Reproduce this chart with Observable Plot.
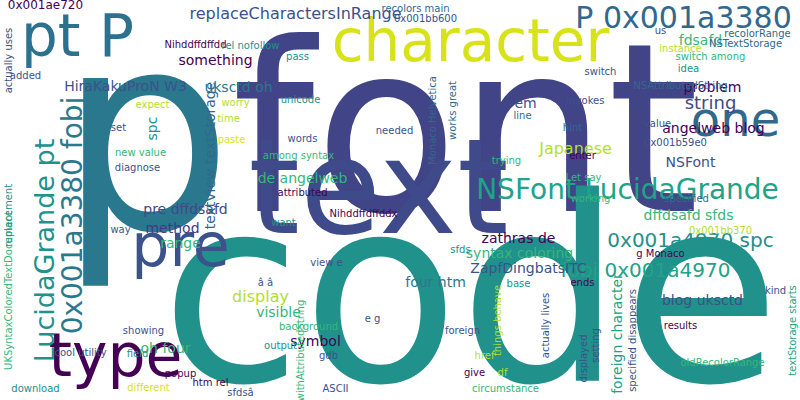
<!DOCTYPE html>
<html><head><meta charset="utf-8">
<script src="https://cdn.jsdelivr.net/npm/d3@7"></script>
<script src="https://cdn.jsdelivr.net/npm/@observablehq/plot@0.6"></script>
<style>body{margin:0;background:#fff}</style>
</head><body><div id="chart"></div>
<script>
const words = ["p","font","code","text","character","pt P","pre","type","one","P 0x001a3380","NSFont LucidaGrande","LucidaGrande pt","0x001a3380 fobj","0x001a4970 spc","fobj 0x001a4970","replaceCharactersInRange","Japanese","HiraKakuProN W3","uksctd oh","something","string","problem","angelweb blog","fdsafd","em","NSFont","dffdsafd sfds","zathras de","syntax coloring","ZapfDingbatsITC","four htm","de angelweb","pre dffdsafd","method","range","display","visible","symbol","oh four","blog uksctd","foreign character","spc","textView textStorage","Nihddffdffddx","Nihddffdffdd","rel nofollow","recolors main","0x001ae720","0x001bb600","NSTextStorage","recolorRange","NSAttributedString","invokes","hint","enter","Let say","working","value","0x001b59e0","specified","unicode","words","worry","paste","time","expect","set","new value","diagnose","way","among syntax","attributed","want","pass","view e","needed","trying","Monaco Helvetica","works great","line","ends","base","sfds","ASCII","circumstance","gdb","output","background","popup","showing","field","cool utility","download","different","htm rel","sfdsâ","UKSyntaxColoredTextDocument","replacement","actually uses","added","results","kind","textStorage starts","oldRecolorRange","specified disappears","displayed","setting","actually lives","things behave","href","foreign","give","df","withAttributedString","â â","e g","switch","instance","idea","switch among","0x001bb370","g Monaco","us"];
const xs = [145,465,470,378,470,77,180,115,735,683,627,45,73,690,645,295,575,125,238,215,710,712,713,700,525,690,688,518,519,528,435,302,185,172,180,260,278,315,165,702,617,152,210,363,195,250,415,45,425,745,757,680,585,572,582,583,590,657,675,686,300,302,235,231,228,152,118,140,137,120,298,302,283,297,326,394,506,432,452,522,582,518,460,335,505,328,280,308,180,143,137,80,35,148,210,240,8,8,8,25,680,775,792,722,632,583,595,545,497,484,462,474,502,300,265,372,600,680,688,710,720,660,660];
const ys = [140,135,298,190,42,37,246,356,120,18,190,250,215,240,270,13,148,86,87,60,103,87,128,40,103,162,215,238,253,268,282,178,209,228,243,296,312,341,348,300,333,128,155,213,44,45,8,5,18,43,33,85,100,127,155,177,198,123,142,198,99,138,102,139,118,104,127,152,167,229,155,192,222,56,262,130,160,120,110,115,282,283,249,388,388,355,345,326,373,330,353,352,388,387,382,392,290,215,60,75,325,290,330,362,340,358,345,325,320,355,330,372,372,350,282,318,71,48,68,56,230,253,30];
const sizes = [275,235,257,132,58,58,60,60,48,30,28,27,28,20,20,16,16,14,14,14,18,14,14,14,14,14,14,14,14,14,14,14,14,14,14,16,14,14,14,14,14,14,14,10,10,10,10,12,10,10,10,10,10,10,10,10,10,10,10,10,10,10,10,10,10,10,10,10,10,10,10,10,10,10,10,10,10,10,10,10,10,10,10,10,10,10,10,10,10,10,10,10,10,10,10,10,10,10,10,10,10,10,10,10,10,10,10,10,10,10,10,10,10,10,10,10,10,10,10,10,10,10,10];
const rots = [0,0,0,0,0,0,0,0,0,0,0,-90,-90,0,0,0,0,0,0,0,0,0,0,0,0,0,0,0,0,0,0,0,0,0,0,0,0,0,0,0,-90,-90,-90,0,0,0,0,0,0,0,0,0,0,0,0,0,0,0,0,0,0,0,0,0,0,0,0,0,0,0,0,0,0,0,0,0,0,-90,-90,0,0,0,0,0,0,0,0,0,0,0,0,0,0,0,0,0,-90,-90,-90,0,0,0,-90,0,-90,-90,-90,-90,-90,0,0,0,0,-90,0,0,0,0,0,0,0,0,0];
const colors = ["#2a788e","#414487","#21918c","#3e4a89","#d8e219","#2c728e","#3b528b","#440154","#31688e","#31688e","#20a386","#21918c","#2a788e","#21918c","#20a386","#3b528b","#b5de2b","#3b528b","#2a788e","#440154","#3e4a89","#440154","#440154","#35b779","#3b528b","#3b528b","#35b779","#440154","#35b779","#3b528b","#2a788e","#35b779","#3e4a89","#443983","#35b779","#b5de2b","#35b779","#440154","#35b779","#3b528b","#20a386","#21918c","#31688e","#440154","#440154","#21918c","#31688e","#440154","#3b528b","#31688e","#31688e","#31688e","#3b528b","#31688e","#440154","#35b779","#35b779","#3b528b","#3b528b","#31688e","#21918c","#3b528b","#b5de2b","#d8e219","#b5de2b","#b5de2b","#3b528b","#35b779","#3b528b","#3b528b","#35b779","#440154","#21918c","#21918c","#3b528b","#3b528b","#35b779","#31688e","#31688e","#31688e","#440154","#21918c","#21918c","#3b528b","#35b779","#3b528b","#21918c","#35b779","#440154","#3b528b","#21918c","#3b528b","#21918c","#d8e219","#440154","#3b528b","#35b779","#21918c","#3b528b","#3b528b","#440154","#3b528b","#20a386","#35b779","#3b528b","#3b528b","#3b528b","#3b528b","#b5de2b","#b5de2b","#3b528b","#440154","#b5de2b","#35b779","#3b528b","#3b528b","#3b528b","#b5de2b","#21918c","#35b779","#b5de2b","#440154","#3b528b","#b5de2b","#3b528b"];
const data = words.map((w,i)=>({w,x:xs[i],y:ys[i],s:sizes[i],r:rots[i],c:colors[i]}));
const chart = Plot.plot({
  width:800,height:400,margin:0,
  x:{domain:[0,800],axis:null},
  y:{domain:[400,0],axis:null},
  marks:[Plot.text(data,{x:"x",y:"y",text:"w",fontSize:"s",rotate:"r",fill:"c",
    fontFamily:"DejaVu Sans",textAnchor:"middle",lineAnchor:"middle"})]
});
chart.style.background="#fff";
document.getElementById("chart").append(chart);
</script></body></html>
